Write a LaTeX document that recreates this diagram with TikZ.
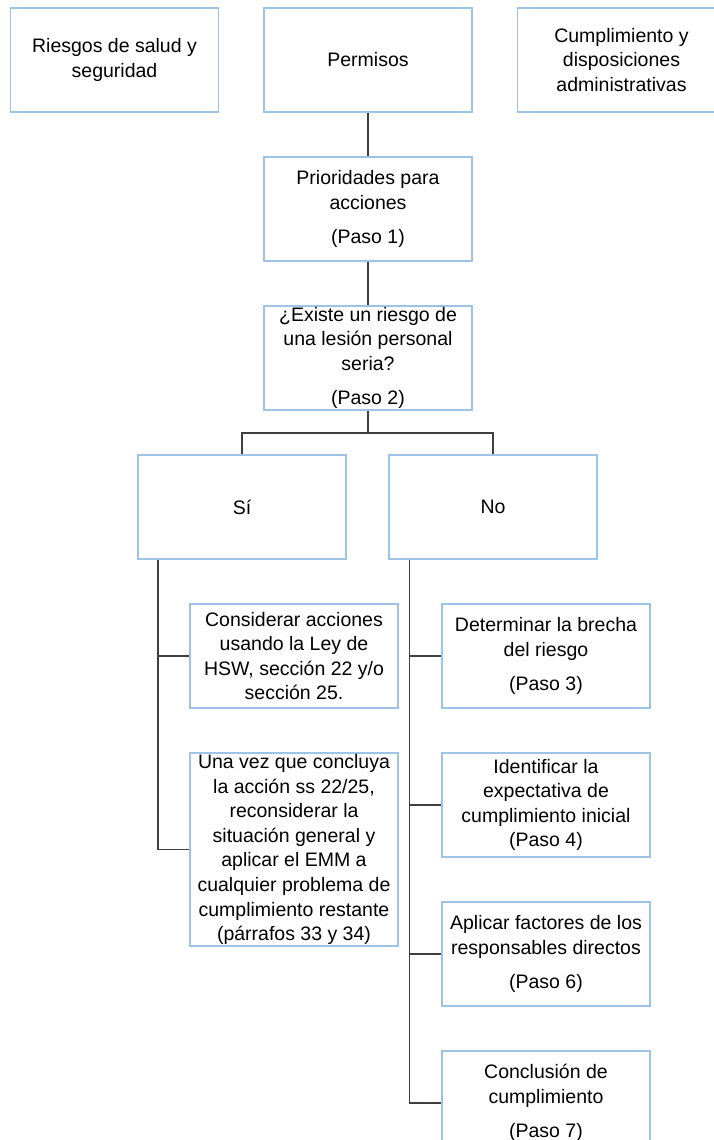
\documentclass[tikz,border=0pt]{standalone}
\usepackage{fontspec}
\setmainfont{Liberation Sans}
\usepackage{tikz}
\usetikzlibrary{calc,positioning}
\definecolor{boxblue}{HTML}{9DC3E6}
\definecolor{linkgray}{HTML}{3F3F3F}

\begin{document}
\begin{tikzpicture}[
  node distance=21.75pt and 22pt,
  stage/.style={rectangle, draw=boxblue, fill=white, line width=0.75pt,
    font=\fontsize{9.75}{12.3}\selectfont, minimum width=104pt, minimum height=52pt,
    align=center, inner xsep=2pt, inner ysep=0.5pt},
  tallstage/.style={stage, minimum height=96.5pt},
  link/.style={draw=linkgray, line width=0.75pt}
]
  \fill[white, use as bounding box] (-184pt,30pt) rectangle (172.5pt,-540pt);
  \node[stage] (permisos) {Permisos};
  \node[stage, left=of permisos] (riesgos) {Riesgos de salud y\\seguridad};
  \node[stage, right=of permisos] (cumpl) {Cumplimiento y\\disposiciones\\administrativas};
  \node[stage, below=of permisos] (paso1) {Prioridades para\\acciones\\[4.8pt](Paso 1)};
  \node[stage, below=of paso1] (paso2) {¿Existe un riesgo de\\una lesión personal\\seria?\\[4.8pt](Paso 2)};
  \node[stage, below=of paso2, xshift=-63pt] (si) {Sí};
  \node[stage, below=of paso2, xshift=62.5pt] (no) {No};
  \node[stage, anchor=north west] (accion) at ($(si.south west)+(26pt,-21.75pt)$)
    {Considerar acciones\\usando la Ley de\\HSW, sección 22 y/o\\sección 25.};
  \node[tallstage, below=of accion] (revis) {Una vez que concluya\\la acción ss 22/25,\\reconsiderar la\\situación general y\\aplicar el EMM a\\cualquier problema de\\cumplimiento restante\\(párrafos 33 y 34)};
  \node[stage, anchor=north west] (brecha) at ($(no.south west)+(26.5pt,-21.75pt)$)
    {Determinar la brecha\\del riesgo\\[4.8pt](Paso 3)};
  \node[stage, below=of brecha] (expect) {Identificar la\\expectativa de\\cumplimiento inicial\\(Paso 4)};
  \node[stage, below=of expect] (factores) {Aplicar factores de los\\responsables directos\\[4.8pt](Paso 6)};
  \node[stage, below=of factores] (conclu) {Conclusión de\\cumplimiento\\[4.8pt](Paso 7)};
  \coordinate (fork) at ($(paso2.south)+(0,-11pt)$);
  \coordinate (sitrunk) at ($(si.south west)+(10.5pt,0)$);
  \coordinate (notrunk) at ($(no.south west)+(10.5pt,0)$);
  \draw[link] (permisos) -- (paso1);
  \draw[link] (paso1) -- (paso2);
  \draw[link] (paso2) -- (fork) -| (si);
  \draw[link] (fork) -| (no);
  \draw[link] (sitrunk) |- (accion);
  \draw[link] (sitrunk) |- (revis);
  \draw[link] (notrunk) |- (brecha);
  \draw[link] (notrunk) |- (expect);
  \draw[link] (notrunk) |- (factores);
  \draw[link] (notrunk) |- (conclu);
\end{tikzpicture}
\end{document}
